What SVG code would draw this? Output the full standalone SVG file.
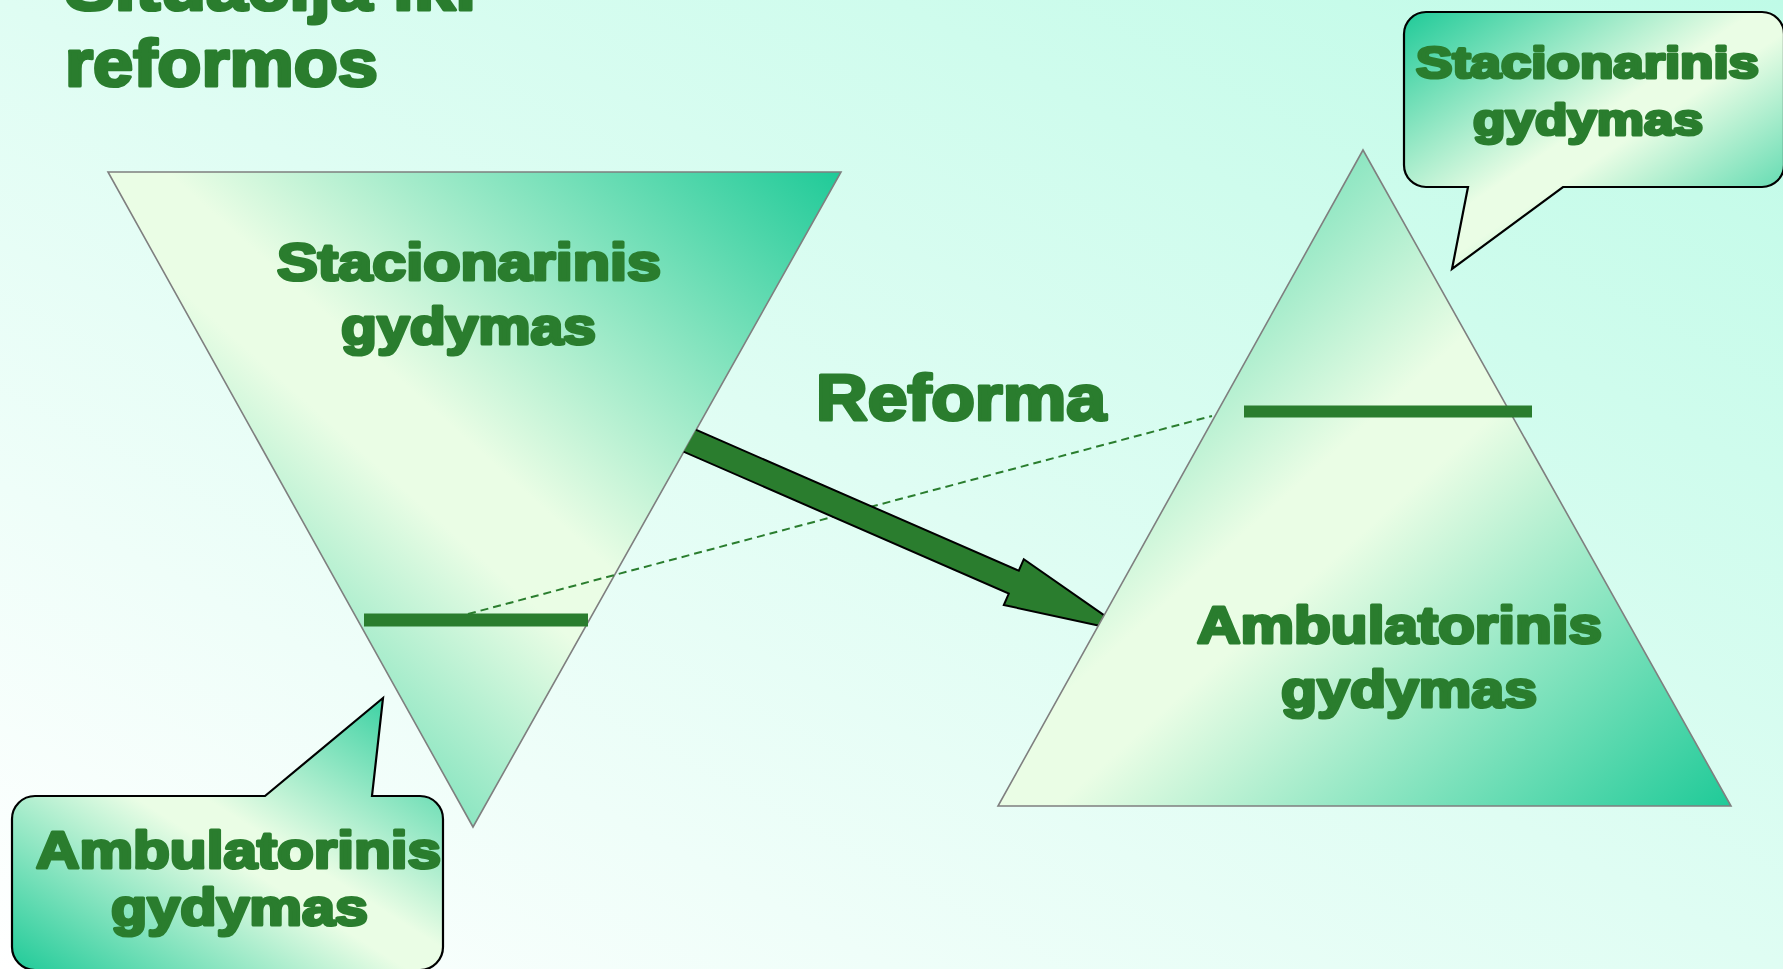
<svg xmlns="http://www.w3.org/2000/svg" width="1783" height="969" viewBox="0 0 1783 969">
<style>
.t{font-family:"Liberation Sans",Arial,sans-serif;font-weight:bold;fill:#2a7d2e;stroke:#2a7d2e;stroke-width:3.2;stroke-linejoin:round}
.tri{stroke:#7f7f7f;stroke-width:1.6}
.bub{stroke:#000;stroke-width:2.2;stroke-linejoin:miter}
.bar{fill:#2a7d2e}
</style>
<defs>
<linearGradient id="bg" x1="1" y1="0" x2="0" y2="1">
<stop offset="0" stop-color="#bffbe7"/>
<stop offset="1" stop-color="#ffffff"/>
</linearGradient>
<linearGradient id="gTR" x1="1" y1="0" x2="0" y2="1">
<stop offset="0" stop-color="#1fca98"/>
<stop offset="0.46" stop-color="#eafde5"/>
<stop offset="0.54" stop-color="#eafde5"/>
<stop offset="1" stop-color="#1fca98"/>
</linearGradient>
<linearGradient id="gBR" x1="1" y1="1" x2="0" y2="0">
<stop offset="0" stop-color="#1fca98"/>
<stop offset="0.46" stop-color="#eafde5"/>
<stop offset="0.54" stop-color="#eafde5"/>
<stop offset="1" stop-color="#1fca98"/>
</linearGradient>
<linearGradient id="gTL" x1="0" y1="0" x2="1" y2="1">
<stop offset="0" stop-color="#1fca98"/>
<stop offset="0.46" stop-color="#eafde5"/>
<stop offset="0.54" stop-color="#eafde5"/>
<stop offset="1" stop-color="#1fca98"/>
</linearGradient>
<clipPath id="outsideLeft">
<polygon points="937,0 1783,0 1783,969 394,969"/>
</clipPath>
</defs>
<rect width="1783" height="969" fill="url(#bg)"/>

<g id="title">
<text class="t" x="65" y="10" font-size="66" textLength="411" lengthAdjust="spacingAndGlyphs">Situacija iki</text>
<text class="t" x="65" y="86" font-size="66" textLength="313" lengthAdjust="spacingAndGlyphs">reformos</text>
</g>

<g id="before-pyramid">
<polygon class="tri" points="108,172 841,172 473,827" fill="url(#gTR)"/>
<text class="t" x="277" y="280" font-size="52" textLength="384" lengthAdjust="spacingAndGlyphs">Stacionarinis</text>
<text class="t" x="341" y="344" font-size="52" textLength="255" lengthAdjust="spacingAndGlyphs">gydymas</text>
<rect class="bar" x="364" y="613.5" width="224" height="13"/>
</g>

<g id="connectors">
<line x1="468" y1="614" x2="1212" y2="416" stroke="#2a7d2e" stroke-width="2" stroke-dasharray="8,5"/>
<polygon clip-path="url(#outsideLeft)" points="650.3,409.9 1018.8,570.7 1023.8,559.2 1128.3,632.1 1003.8,605 1008.8,593.6 640.3,432.8" fill="#2a7d2e" stroke="#000" stroke-width="2" stroke-linejoin="miter"/>
<text class="t" x="816" y="420" font-size="64" textLength="290" lengthAdjust="spacingAndGlyphs">Reforma</text>
</g>

<g id="after-pyramid">
<polygon class="tri" points="1363,150 1731,806 998,806" fill="url(#gBR)"/>
<rect class="bar" x="1244" y="405.5" width="288" height="12"/>
<text class="t" x="1197" y="643" font-size="52" textLength="405" lengthAdjust="spacingAndGlyphs">Ambulatorinis</text>
<text class="t" x="1281" y="707" font-size="52" textLength="256" lengthAdjust="spacingAndGlyphs">gydymas</text>
</g>

<g id="callout-stacionarinis">
<path class="bub" fill="url(#gTL)" d="M1426,12 H1762 A22,22 0 0 1 1784,34 V165 A22,22 0 0 1 1762,187 H1563 L1452,269 L1468,187 H1426 A22,22 0 0 1 1404,165 V34 A22,22 0 0 1 1426,12 Z"/>
<text class="t" x="1416" y="78" font-size="44" textLength="343" lengthAdjust="spacingAndGlyphs">Stacionarinis</text>
<text class="t" x="1473" y="135" font-size="44" textLength="230" lengthAdjust="spacingAndGlyphs">gydymas</text>
</g>

<g id="callout-ambulatorinis">
<path class="bub" fill="url(#gTR)" d="M35,796 H265 L383,698 L372,796 H420 A23,23 0 0 1 443,819 V947 A23,23 0 0 1 420,970 H35 A23,23 0 0 1 12,947 V819 A23,23 0 0 1 35,796 Z"/>
<text class="t" x="36" y="868" font-size="52" textLength="405" lengthAdjust="spacingAndGlyphs">Ambulatorinis</text>
<text class="t" x="111" y="925" font-size="52" textLength="257" lengthAdjust="spacingAndGlyphs">gydymas</text>
</g>
</svg>
